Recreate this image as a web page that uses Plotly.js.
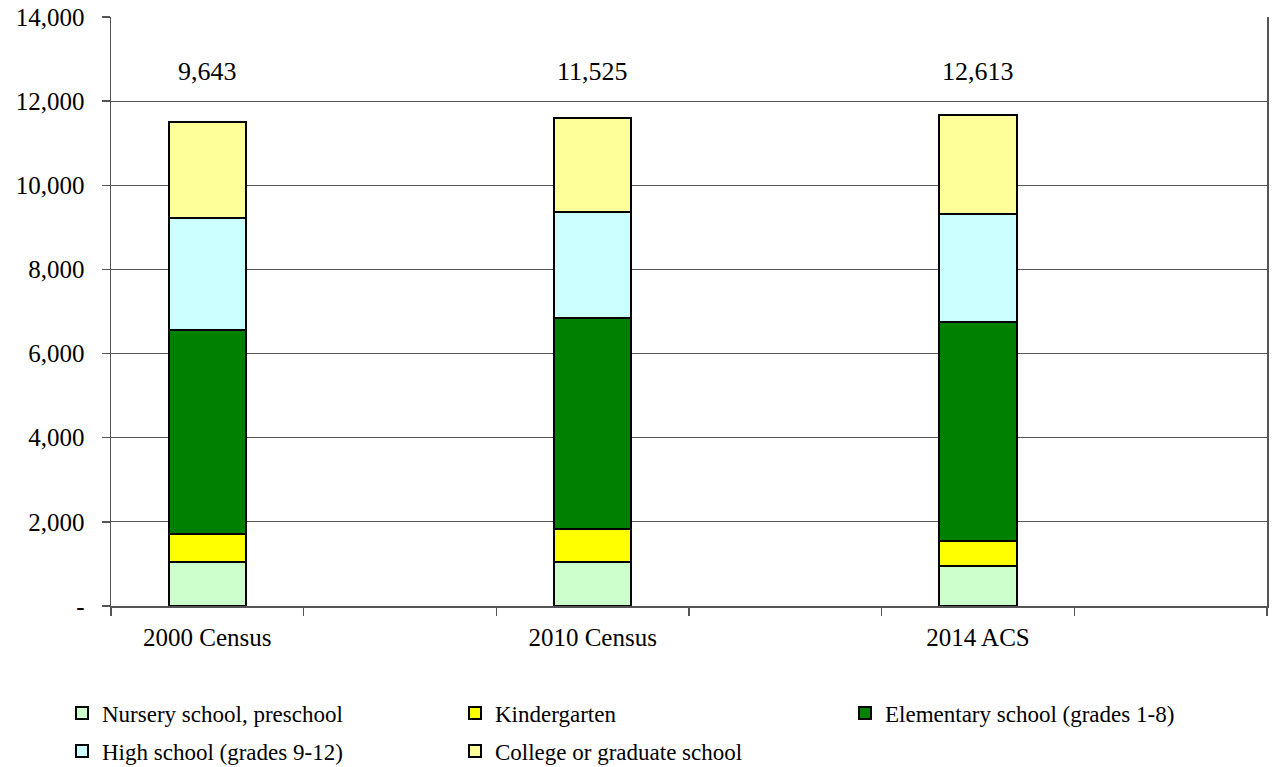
<!DOCTYPE html>
<html>
<head>
<meta charset="utf-8">
<script src="https://cdn.plot.ly/plotly-3.0.1.min.js"></script>
<style>html,body{margin:0;padding:0;background:#fff;}#chart{width:1273px;height:767px;}</style>
</head>
<body>
<div id="chart"></div>
<script>
// Data
const categories = ['2000 Census', '2010 Census', '2014 ACS'];
const spacerCategories = [' ', '  ', '   '];
const seriesNames = ['Nursery school, preschool', 'Kindergarten', 'Elementary school (grades 1-8)', 'High school (grades 9-12)', 'College or graduate school'];
const nursery = [1040, 1040, 943];
const kindergarten = [665, 783, 609];
const elementary = [4855, 5030, 5191];
const highSchool = [2655, 2505, 2582];
const college = [2297, 2249, 2346];
const totalsLabels = [9643, 11525, 12613];
const totalsLabelY = 12700;
const yTickVals = [0, 2000, 4000, 6000, 8000, 10000, 12000, 14000];
const yTickText = ['-', '2,000', '4,000', '6,000', '8,000', '10,000', '12,000', '14,000'];
const colors = ['#CCFFCC', '#FFFF00', '#008000', '#CCFFFF', '#FFFF99'];

const seriesValues = [nursery, kindergarten, elementary, highSchool, college];
const FONT = 'Liberation Serif';

// legend slot per series: [left px, row center px]
const legendIds = ['legend', 'legend2', 'legend3', 'legend4', 'legend5'];
const legendSlots = [[62, 713], [455, 713], [845, 713], [62, 751], [455, 751]];

const traces = seriesValues.map((vals, i) => ({
  type: 'bar',
  name: seriesNames[i],
  x: categories,
  y: vals,
  legend: legendIds[i],
  marker: {color: colors[i], line: {color: '#000', width: 2}},
  hoverinfo: 'x+y+name'
}));

const catOrder = [categories[0], spacerCategories[0], categories[1], spacerCategories[1], categories[2], spacerCategories[2]];

const annotations = categories.map((c, i) => ({
  x: c, y: totalsLabelY, xref: 'x', yref: 'y',
  text: totalsLabels[i].toLocaleString('en-US'),
  showarrow: false,
  font: {family: FONT, size: 26, color: '#000'}
}));

const layout = {
  width: 1273, height: 767,
  margin: {l: 111, r: 6, t: 17, b: 161},
  paper_bgcolor: '#fff', plot_bgcolor: '#fff',
  barmode: 'stack',
  bargap: 0.6,
  font: {family: FONT, color: '#000'},
  showlegend: true,
  xaxis: {
    type: 'category',
    categoryorder: 'array',
    categoryarray: catOrder,
    range: [-0.5, 5.5],
    showline: true, linecolor: '#555', linewidth: 1.5,
    ticks: 'outside', tickson: 'boundaries', ticklen: 8, tickcolor: '#555', tickwidth: 1.5,
    ticklabelstandoff: 8,
    tickfont: {family: FONT, size: 25, color: '#000'},
    showgrid: false, zeroline: false, fixedrange: true
  },
  yaxis: {
    range: [0, 14000],
    tickvals: yTickVals, ticktext: yTickText,
    showline: true, linecolor: '#555', linewidth: 1.5, mirror: true,
    ticks: 'outside', ticklen: 8, tickcolor: '#555', tickwidth: 1.5,
    ticklabelstandoff: 12,
    showgrid: true, gridcolor: '#555', gridwidth: 1.2,
    zeroline: false,
    tickfont: {family: FONT, size: 25, color: '#000'},
    fixedrange: true
  },
  annotations: annotations
};

legendIds.forEach((id, i) => {
  layout[id] = {
    orientation: 'h',
    xref: 'container', yref: 'container',
    x: legendSlots[i][0] / 1273, y: 1 - legendSlots[i][1] / 767,
    xanchor: 'left', yanchor: 'middle',
    font: {family: FONT, size: 23, color: '#000'},
    itemwidth: 30,
    bgcolor: 'rgba(0,0,0,0)'
  };
});

Plotly.newPlot('chart', traces, layout, {displayModeBar: false, staticPlot: true});
</script>
</body>
</html>
